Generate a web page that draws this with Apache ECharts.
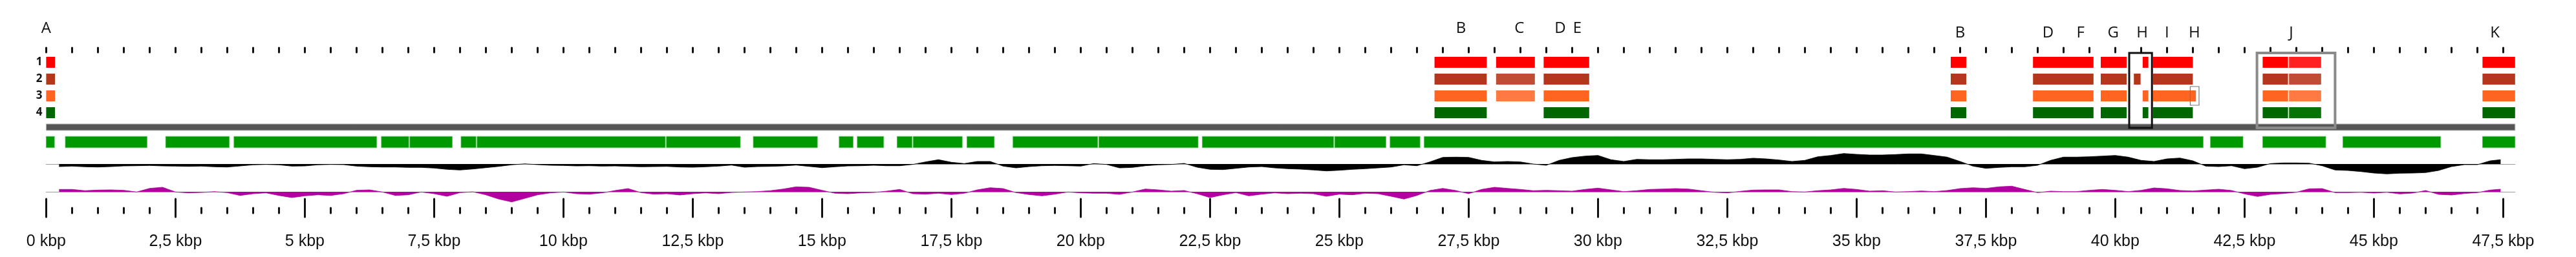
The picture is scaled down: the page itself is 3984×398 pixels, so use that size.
<!DOCTYPE html>
<html>
<head>
<meta charset="utf-8">
<script src="https://cdn.jsdelivr.net/npm/echarts@6/dist/echarts.min.js"></script>
<style>
html, body { margin: 0; padding: 0; background: #fff; }
#map { width: 3984px; height: 398px; }
</style>
</head>
<body>
<div id="map"></div>
<script>
const GENOME_KBP = 47.73

// hit rows: [start kbp, end kbp, identity]
const rowNames = ['1', '2', '3', '4']
const row1Hits = [[0, 0.17, 1], [26.84, 27.85, 1], [28.03, 28.78, 1], [28.95, 29.83, 1], [36.82, 37.12, 1], [38.41, 39.58, 1], [39.72, 40.22, 1], [40.53, 40.64, 1], [40.73, 41.5, 1], [42.85, 43.34, 1], [43.36, 43.98, 0.9], [47.1, 47.73, 1]]
const row2Hits = [[0, 0.17, 1], [26.84, 27.85, 1], [28.03, 28.78, 0.9], [28.95, 29.83, 1], [36.82, 37.12, 1], [38.41, 39.58, 1], [39.72, 40.22, 1], [40.36, 40.49, 1], [40.73, 41.5, 1], [42.85, 43.34, 1], [43.36, 43.98, 0.9], [47.1, 47.73, 1]]
const row3Hits = [[0, 0.17, 1], [26.84, 27.85, 1], [28.03, 28.78, 0.9], [28.95, 29.83, 1], [36.82, 37.12, 1], [38.41, 39.58, 1], [39.72, 40.22, 1], [40.53, 40.64, 1], [40.73, 41.56, 1], [42.85, 43.34, 1], [43.36, 43.98, 0.9], [47.1, 47.73, 1]]
const row4Hits = [[0, 0.17, 1], [26.84, 27.85, 1], [28.95, 29.83, 1], [36.82, 37.12, 1], [38.41, 39.58, 1], [39.72, 40.22, 1], [40.53, 40.64, 1], [40.73, 41.5, 1], [42.85, 43.34, 1], [43.36, 43.98, 0.9], [47.1, 47.73, 1]]

// annotated genes (kbp)
const genes = [[0, 0.16], [0.37, 1.95], [2.31, 3.54], [3.63, 6.39], [6.48, 7.01], [7.03, 7.85], [8.02, 8.31], [8.33, 11.97], [11.99, 13.42], [13.67, 14.91], [15.33, 15.6], [15.68, 16.19], [16.45, 16.74], [16.76, 17.71], [17.8, 18.33], [18.69, 20.33], [20.35, 22.27], [22.35, 24.89], [24.91, 25.9], [25.98, 26.56], [26.64, 41.7], [41.84, 42.47], [42.85, 44.07], [44.4, 46.29], [47.1, 47.73]]

// sliding window centres (kbp)
const windowPos = []
for (let i = 1; i <= 189; i++) windowPos.push(i * 0.25)
windowPos.push(47.45)

// black track (GC deviation)
const gcDeviation = [
  -4, -3.3, -4.3, -4.7, -4, -3, -2.7, -2.3, -3, -3.3, -3.7, -3.3, -4.3, -4.7, -3, -1.3, -0.7, -1.3, -3.3, -3, -1.3, -0.7, -1, -3.3, -4.3, -4.7, -4.7, -5.3, -5.3, -6.3, -8.3, -9.3,
  -7.7, -5.7, -3.7, -1.3, 0.3, -1, -2, -2.3, -3, -2.7, -3.3, -3, -3.7, -4.3, -4, -3.7, -4.7, -5, -4.3, -3.3, -1.7, -5, -4, -3.7, -3, -1.7, -3.7, -5.7, -4.3, -3, -2.7, -2,
  -2.7, -2.7, -0.7, 3.3, 6.7, 2.7, 0.7, 4, 4, -3.3, -6, -4, -2.7, -2.3, -2.7, -3.3, 0.7, -0.7, -6, -5.3, -2.7, -1.3, -0.7, 1, -5, -8.3, -8.7, -6.7, -4.7, -4, -6, -7.3,
  -8, -9.3, -10.7, -9.7, -8.3, -7.3, -6, -4.7, -1.3, -2.7, 3.3, 10.3, 10.7, 10.3, 5.7, 3.3, 4, 3.3, 0, -2, 5.7, 10, 12.3, 13.3, 6.7, 4, 7.3, 6.7, 6.7, 7.3, 8, 8,
  7.3, 6.7, 7.3, 9, 8, 6.3, 4, 5.7, 11.3, 13.3, 16.3, 15, 14, 14, 14.7, 15.7, 15.7, 13.3, 10.7, 4, -3.3, -6.7, -5.3, -4.3, -4.3, -2, 5.7, 10.7, 10.7, 11.3, 12.3, 13.3,
  10.7, 5.7, 4, 8, 9.3, 5, -3.3, -4, -2.7, -7.3, -5, 0.7, 1.7, 1.7, 1.3, -2.7, -9.3, -10, -11.7, -14, -15.3, -14.3, -14, -13.3, -10, -4, -1, -1, 5, 6.7
]

// magenta track (GC skew)
const gcSkew = [
  3.7, 3.7, 1.7, 2.7, 3, 2.3, -0.3, 5.3, 7, -0.3, -1.7, -1, 0.3, -1.3, -5.7, -3, -1.7, -5.7, -9, -6.3, -4.7, -5.7, -3, 2.3, 3, -0.3, -5.7, -4.7, -0.3, -3, -7, -1.3,
  0, -4.7, -11.3, -15.7, -10.3, -4.7, -1.7, -0.3, -3, -3.7, -1.7, 2, 5, -1.3, -3.7, -3, -5, -3, -1.7, -3, -1, -0.3, 0.3, 1.7, 4.3, 7.7, 7, 2.3, -2.3, -3, -1.7, -1,
  1, 3.7, -3, -3.7, -2.3, -4.3, -2.3, 3, 6.3, 5, -1.3, -4.3, -6.3, -3.7, -0.3, -1.7, -2.3, -2.3, -4, -0.3, 4.3, 3, 1, 2, -3, -9, -4.7, -1.3, -6.3, -3.7, -1.7, -3,
  -2.3, -3, -7, -3.7, -4.7, -2.3, -3, -7, -11.3, -5.7, 2, 5.3, 2, -3, 3.7, 7, 5.3, 3.7, 1.7, 2.3, 1.7, 1, 3.7, 5.7, 3, 0.3, 1.7, 3.7, 4.3, 5, 4.3, 1.7,
  -0.7, -1.7, 0.7, 2.7, 3, 3, 0.3, -0.3, 1.7, 3, 5.3, 3.7, 1, 1.7, -0.3, 0.3, 1.3, 0.3, 2, 5, 6.3, 5.3, 7.7, 8.7, 3.7, -1.3, 1, 0.3, 0.3, 2.3, 3.7, 2.3,
  0.3, 2.3, 6, 4.7, 2, 1.3, 2.7, 4, 2, -3.3, -7.3, -4, -2.7, -0.7, 4.7, 5, -1.3, -1.3, -0.7, -2, -0.7, -3.3, -2, 2, -4, -5, -2.7, -1.3, 2.7, 4
]

const majorTicks = [0, 2.5, 5, 7.5, 10, 12.5, 15, 17.5, 20, 22.5, 25, 27.5, 30, 32.5, 35, 37.5, 40, 42.5, 45, 47.5]
const minorTicks = []
for (let i = 0; i <= 95; i++) minorTicks.push(i * 0.5)

// site letters: [name, kbp, tier]
const siteLabels = [['A', 0, 0], ['B', 27.35, 0], ['C', 28.48, 0], ['D', 29.27, 0], ['E', 29.6, 0], ['B', 37.0, 1], ['D', 38.7, 1], ['F', 39.33, 1], ['G', 39.96, 1], ['H', 40.52, 1], ['I', 41.0, 1], ['H', 41.53, 1], ['J', 43.4, 1], ['K', 47.34, 1]]

// highlighted regions: [start, end, first row, last row (4 = down to backbone), kind]
const boxes = [[40.27, 40.71, 0, 4, 0], [41.45, 41.62, 2, 2, 1], [42.74, 44.25, 0, 4, 2]]

let rowColors = ['#ff0000', '#b5371b', '#ff6420', '#006600']
let rowLight = ['#ff2121', '#bf4d35', '#ff7a42', '#077307']
let boxStyle = [
  { stroke: '#111', lineWidth: 3 },
  { stroke: '#777', lineWidth: 1.2 },
  { stroke: '#8a8a8a', lineWidth: 4 },
]

let hitData = []
;[row1Hits, row2Hits, row3Hits, row4Hits].forEach((rows, r) => {
  rows.forEach((h) => hitData.push([r, h[0], h[1], h[2]]))
})

const LEFT = 71.4
const RIGHT = 3984 - LEFT - GENOME_KBP * 80

let myChart = echarts.init(document.getElementById('map'))

let hiddenX = (grid) => ({
  type: 'value', gridIndex: grid, min: 0, max: GENOME_KBP,
  axisLine: { show: false }, axisTick: { show: false }, axisLabel: { show: false }, splitLine: { show: false },
})
let baseX = (grid) => ({
  type: 'value', gridIndex: grid, min: 0, max: GENOME_KBP,
  axisLine: { show: true, onZero: true, lineStyle: { color: '#9a9a9a', width: 1 } },
  axisTick: { show: false }, axisLabel: { show: false }, splitLine: { show: false },
})
let tickX = (pos, values, len, labels) => ({
  type: 'value', gridIndex: 4, position: pos, min: 0, max: GENOME_KBP,
  axisLine: { show: false },
  splitLine: { show: false },
  axisTick: { show: true, customValues: values, length: len, lineStyle: { color: '#111', width: 3, cap: 'round' } },
  axisLabel: labels
    ? {
        show: true, customValues: majorTicks, margin: 40,
        fontFamily: 'Liberation Sans', fontSize: 25, color: '#111',
        formatter: (v) => String(v).replace('.', ',') + ' kbp',
      }
    : { show: false },
})
let hiddenY = (grid, extra) => Object.assign({
  gridIndex: grid,
  axisLine: { show: false }, axisTick: { show: false }, axisLabel: { show: false }, splitLine: { show: false },
}, extra)

let option = {
  animation: false,
  backgroundColor: '#fff',
  grid: [
    { left: LEFT, right: RIGHT, top: 83.5, height: 104 },
    { left: LEFT, right: RIGHT, top: 185.6, height: 45.5 },
    { left: LEFT, right: RIGHT, top: 234, height: 40 },
    { left: LEFT, right: RIGHT, top: 277, height: 40 },
    { left: LEFT, right: RIGHT, top: 81, height: 241 },
  ],
  xAxis: [
    hiddenX(0),
    hiddenX(1),
    baseX(2),
    baseX(3),
    tickX('top', majorTicks, 14, false),
    tickX('top', minorTicks, 7, false),
    tickX('bottom', majorTicks, 14, true),
    tickX('bottom', minorTicks, 8, false),
  ],
  yAxis: [
    {
      type: 'category', gridIndex: 0, data: rowNames, inverse: true,
      axisLine: { show: false }, axisTick: { show: false }, splitLine: { show: false },
      axisLabel: { fontFamily: 'Open Sans', fontWeight: 'bold', fontSize: 17, color: '#111', margin: 6 },
    },
    hiddenY(1, { type: 'category', data: ['backbone', 'genes'], inverse: true }),
    hiddenY(2, { type: 'value', min: -20, max: 20 }),
    hiddenY(3, { type: 'value', min: -20, max: 20 }),
    hiddenY(4, { type: 'value', min: 0, max: 1 }),
  ],
  series: [
    {
      type: 'custom', xAxisIndex: 0, yAxisIndex: 0, clip: false,
      encode: { x: [1, 2], y: 0 },
      data: hitData,
      renderItem: (params, api) => {
        let r = api.value(0)
        let a = api.coord([api.value(1), r])
        let b = api.coord([api.value(2), r])
        return {
          type: 'rect',
          shape: { x: a[0], y: a[1] - 8.5, width: b[0] - a[0], height: 17 },
          style: { fill: api.value(3) < 1 ? rowLight[r] : rowColors[r] },
        }
      },
    },
    {
      type: 'custom', xAxisIndex: 1, yAxisIndex: 1, clip: false,
      encode: { x: [1, 2], y: 0 },
      data: [[0, 0, GENOME_KBP]],
      renderItem: (params, api) => {
        let a = api.coord([api.value(1), 0])
        let b = api.coord([api.value(2), 0])
        return {
          type: 'rect',
          shape: { x: a[0], y: a[1] - 5, width: b[0] - a[0], height: 10 },
          style: { fill: '#555555', stroke: '#b8b8b8', lineWidth: 1 },
        }
      },
    },
    {
      type: 'custom', xAxisIndex: 1, yAxisIndex: 1, clip: false,
      encode: { x: [0, 1] },
      data: genes,
      renderItem: (params, api) => {
        let a = api.coord([api.value(0), 1])
        let b = api.coord([api.value(1), 1])
        return {
          type: 'rect',
          shape: { x: a[0], y: a[1] - 8.5, width: b[0] - a[0], height: 17.5 },
          style: { fill: '#009900', stroke: '#5cc05c', lineWidth: 0.8 },
        }
      },
    },
    {
      type: 'custom', xAxisIndex: 0, yAxisIndex: 0, clip: false, z: 5,
      encode: { x: [0, 1] },
      data: boxes,
      renderItem: (params, api) => {
        let a = api.coord([api.value(0), api.value(2)])
        let b = api.coord([api.value(1), Math.min(api.value(3), 3)])
        let bottom = api.value(3) > 3 ? b[1] + 23.5 : b[1] + 14.5
        let st = boxStyle[api.value(4)]
        return {
          type: 'rect',
          shape: { x: a[0], y: a[1] - 14.5, width: b[0] - a[0], height: bottom - a[1] + 14.5 },
          style: { fill: 'none', stroke: st.stroke, lineWidth: st.lineWidth },
        }
      },
    },
    {
      type: 'custom', xAxisIndex: 0, yAxisIndex: 0, clip: false,
      encode: { x: 1 },
      data: siteLabels,
      renderItem: (params, api) => {
        let p = api.coord([api.value(1), 0])
        return {
          type: 'text',
          x: p[0],
          y: api.value(2) ? 51 : 44,
          style: {
            text: siteLabels[params.dataIndex][0],
            fontFamily: 'Open Sans', fontSize: 24, fill: '#111',
            align: 'center', verticalAlign: 'middle',
          },
        }
      },
    },
    {
      type: 'line', xAxisIndex: 2, yAxisIndex: 2, symbol: 'none',
      data: windowPos.map((x, i) => [x, gcDeviation[i]]),
      lineStyle: { color: '#000', width: 0.8 },
      areaStyle: { color: '#000', opacity: 1 },
    },
    {
      type: 'line', xAxisIndex: 3, yAxisIndex: 3, symbol: 'none',
      data: windowPos.map((x, i) => [x, gcSkew[i]]),
      lineStyle: { color: '#b0009e', width: 0.8 },
      areaStyle: { color: '#b0009e', opacity: 1 },
    },
  ],
}
myChart.setOption(option)
</script>
</body>
</html>
